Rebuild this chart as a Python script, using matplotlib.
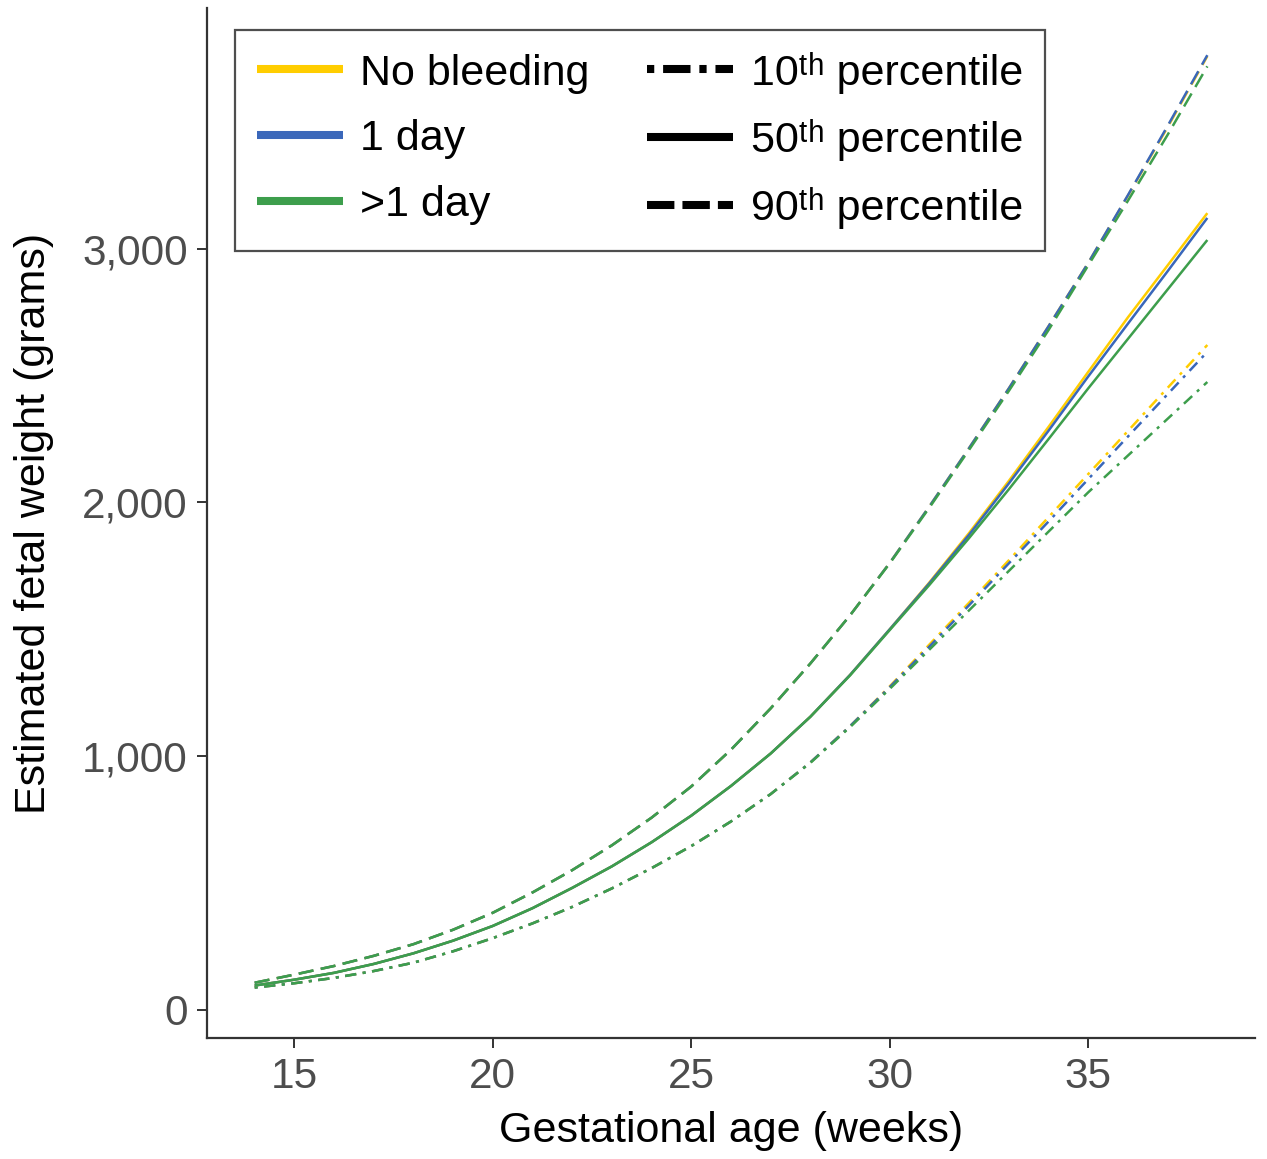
import matplotlib
matplotlib.use("Agg")
import matplotlib.pyplot as plt
from matplotlib.lines import Line2D
from matplotlib.ticker import FuncFormatter

plt.rcParams['font.family'] = ['Liberation Sans', 'DejaVu Sans']

weeks = list(range(14, 39))

groups = ["No bleeding", "1 day", ">1 day"]
colors = ["#FFCD00", "#3A67BA", "#3D9E4C"]

# 10th percentile
p10_none = [87, 104, 125, 152, 185, 230, 282, 340, 405, 478, 558, 645, 742, 850, 975, 1118,
            1275, 1440, 1605, 1772, 1942, 2112, 2282, 2452, 2621]
p10_one = [87, 104, 125, 152, 185, 230, 282, 340, 405, 478, 558, 645, 742, 850, 975, 1118,
           1272, 1432, 1595, 1760, 1925, 2092, 2260, 2427, 2594]
p10_more = [87, 104, 125, 152, 185, 230, 282, 340, 405, 478, 558, 645, 742, 850, 973, 1114,
            1265, 1420, 1575, 1730, 1885, 2040, 2185, 2330, 2475]

# 50th percentile
p50_none = [95, 118, 145, 180, 222, 272, 330, 400, 480, 565, 660, 765, 882, 1010, 1155, 1320,
            1500, 1685, 1880, 2085, 2298, 2515, 2730, 2935, 3141]
p50_one = [95, 118, 145, 180, 222, 272, 330, 400, 480, 565, 660, 765, 882, 1010, 1155, 1320,
           1500, 1682, 1873, 2075, 2283, 2497, 2705, 2912, 3122]
p50_more = [95, 118, 145, 180, 222, 272, 330, 400, 480, 565, 660, 765, 882, 1010, 1155, 1318,
            1497, 1675, 1860, 2052, 2250, 2450, 2645, 2840, 3035]

# 90th percentile
p90_none = [106, 138, 172, 212, 258, 315, 382, 462, 550, 648, 757, 880, 1025, 1188, 1365, 1555,
            1762, 1985, 2215, 2450, 2695, 2945, 3210, 3480, 3760]
p90_one = [106, 138, 172, 212, 258, 315, 382, 462, 550, 648, 757, 880, 1025, 1188, 1365, 1555,
           1762, 1985, 2215, 2450, 2695, 2945, 3212, 3485, 3764]
p90_more = [106, 138, 172, 212, 258, 315, 382, 462, 550, 648, 757, 880, 1025, 1188, 1365, 1555,
            1760, 1980, 2208, 2440, 2680, 2935, 3190, 3450, 3720]

pct_labels = ["10\u1d57\u02b0 percentile", "50\u1d57\u02b0 percentile",
              "90\u1d57\u02b0 percentile"]

series = {
    "p10": [p10_none, p10_one, p10_more],
    "p50": [p50_none, p50_one, p50_more],
    "p90": [p90_none, p90_one, p90_more],
}

fig = plt.figure(figsize=(12.67, 11.59), dpi=100)
ax = fig.add_axes([0.1634, 0.1044, 0.9905 - 0.1634, 0.9931 - 0.1044])

lw = 1.8
styles = {"p10": (0, (1.2, 2.6, 4.5, 2.6)), "p50": "-", "p90": (0, (6, 3))}
for key in ["p10", "p50", "p90"]:
    for vals, col in zip(series[key], colors):
        ax.plot(weeks, vals, color=col, lw=lw, linestyle=styles[key],
                solid_capstyle="butt", dash_capstyle="butt")

ax.set_xlim(12.8, 39.2)
ax.set_ylim(-112, 3950)
ax.set_xticks([15, 20, 25, 30, 35])
ax.set_yticks([0, 1000, 2000, 3000])
ax.yaxis.set_major_formatter(FuncFormatter(lambda v, p: f"{int(v):,}"))

for s in ["top", "right"]:
    ax.spines[s].set_visible(False)
for s in ["left", "bottom"]:
    ax.spines[s].set_color("#333333")
    ax.spines[s].set_linewidth(1.6)
ax.tick_params(axis="both", length=7, width=1.4, color="#333333",
               labelsize=30.5, labelcolor="#4D4D4D", pad=7)

ax.set_xlabel("Gestational age (weeks)", fontsize=31, color="black", labelpad=10)
ax.set_ylabel("Estimated fetal weight (grams)", fontsize=31, color="black", labelpad=20)

hl = 5.8
handles = [Line2D([], [], color=c, lw=hl, solid_capstyle="butt") for c in colors]
handles += [
    Line2D([], [], color="black", lw=hl, linestyle=(0, (0.9, 1.1, 3.4, 1.1)), dash_capstyle="butt"),
    Line2D([], [], color="black", lw=hl, linestyle="-", solid_capstyle="butt"),
    Line2D([], [], color="black", lw=hl, linestyle=(0, (3.4, 1.0)), dash_capstyle="butt"),
]
labels = groups + pct_labels
leg = ax.legend(handles, labels, ncol=2, loc="upper left",
                bbox_to_anchor=(235 / 1267, 1 - 30 / 1159), bbox_transform=fig.transFigure,
                fontsize=31, frameon=True, fancybox=False, handlelength=2.0,
                handletextpad=0.4, labelspacing=0.6, columnspacing=1.35,
                borderpad=0.5, borderaxespad=0)
leg.get_frame().set_edgecolor("#222222")
leg.get_frame().set_linewidth(1.6)

fig.savefig("out.png", dpi=100)
